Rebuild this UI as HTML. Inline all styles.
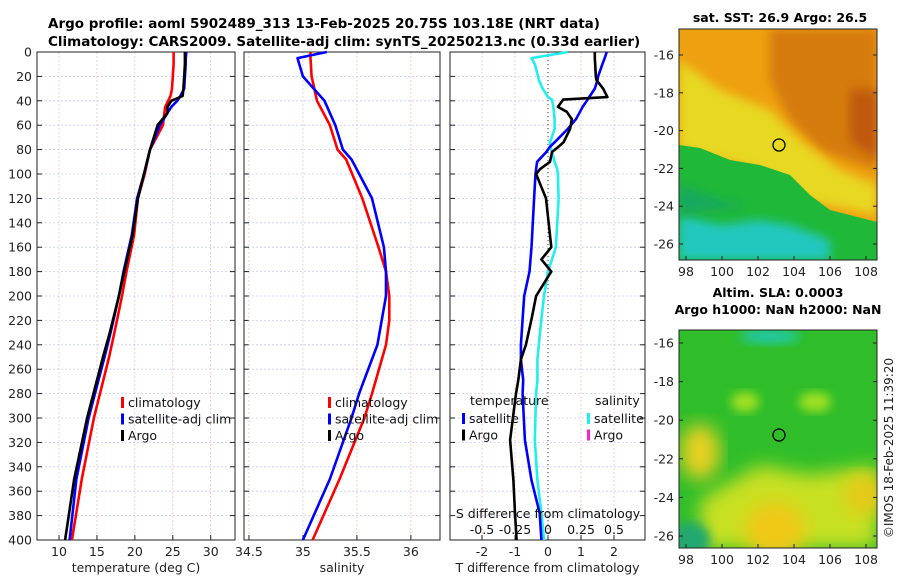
<!DOCTYPE html>
<html><head><meta charset="utf-8"><style>
body{margin:0;background:#fff;width:900px;height:580px;overflow:hidden;font-family:"Liberation Sans","DejaVu Sans",sans-serif}
svg text{font-family:"DejaVu Sans","Liberation Sans",sans-serif}
</style></head><body>
<svg id="c" width="900" height="580" viewBox="0 0 900 580">
<defs>
<filter id="bl" x="-20%" y="-20%" width="140%" height="140%"><feGaussianBlur stdDeviation="5"/></filter>
<filter id="bl2" x="-20%" y="-20%" width="140%" height="140%"><feGaussianBlur stdDeviation="9"/></filter>
<clipPath id="m1"><rect x="679" y="29" width="198" height="231"/></clipPath>
<clipPath id="m2"><rect x="679" y="330" width="198" height="218"/></clipPath>
</defs>
<text x="48" y="28" font-size="13.5" font-weight="bold">Argo profile: aoml 5902489_313 13-Feb-2025 20.75S 103.18E (NRT data)</text>
<text x="48" y="46" font-size="13.5" font-weight="bold">Climatology: CARS2009. Satellite-adj clim: synTS_20250213.nc (0.33d earlier)</text>

<g clip-path="url(#m1)">
<rect x="679" y="29" width="198" height="231" fill="#eea010"/>
<path d="M770,29 L877,29 L877,170 L820,150 L790,120 L770,80 Z" fill="#d57a10" filter="url(#bl)"/>
<path d="M850,90 L877,90 L877,160 L850,140Z" fill="#c05808" filter="url(#bl)"/>
<path d="M679,60 L720,90 L770,110 L800,140 L840,170 L877,185 L877,215 L800,200 L760,170 L720,160 L679,150Z" fill="#e8d820" filter="url(#bl)"/>
<path d="M679,145 L700,148 L730,160 L760,165 L790,175 L810,195 L830,210 L877,222 L877,260 L679,260Z" fill="#20b838"/>
<path d="M679,215 L720,225 L760,220 L790,225 L830,240 L830,260 L679,260Z" fill="#20c8c0" filter="url(#bl)"/>
<path d="M679,185 L720,200 L750,205 L679,215Z" fill="#18a860" filter="url(#bl)"/>
<circle cx="779" cy="145" r="6" fill="none" stroke="#000" stroke-width="1.3"/>
</g>
<rect x="679" y="29" width="198" height="231" fill="none" stroke="#222" stroke-width="1"/>
<text x="780" y="22" font-size="12.5" font-weight="bold" text-anchor="middle">sat. SST: 26.9 Argo: 26.5</text>
<text x="778" y="297" font-size="12.5" font-weight="bold" text-anchor="middle">Altim. SLA: 0.0003</text>
<text x="778" y="314" font-size="12.5" font-weight="bold" text-anchor="middle">Argo h1000: NaN h2000: NaN</text>

<g clip-path="url(#m2)">
<rect x="679" y="330" width="198" height="218" fill="#2fbe2a"/>
<ellipse cx="700" cy="452" rx="20" ry="28" fill="#e8d020" filter="url(#bl2)"/>
<ellipse cx="745" cy="402" rx="14" ry="10" fill="#a0e020" filter="url(#bl)"/>
<ellipse cx="815" cy="402" rx="16" ry="10" fill="#a0e020" filter="url(#bl)"/>
<path d="M700,500 L760,465 L810,475 L877,465 L877,548 L700,548Z" fill="#c8e020" filter="url(#bl2)"/>
<ellipse cx="775" cy="530" rx="30" ry="28" fill="#f0c818" filter="url(#bl2)"/>
<ellipse cx="865" cy="495" rx="20" ry="20" fill="#e8c818" filter="url(#bl2)"/>
<ellipse cx="690" cy="540" rx="20" ry="18" fill="#20a870" filter="url(#bl)"/>
<ellipse cx="770" cy="336" rx="30" ry="8" fill="#20c8a0" filter="url(#bl)"/>
<circle cx="779" cy="435" r="6" fill="none" stroke="#000" stroke-width="1.3"/>
</g>
<rect x="679" y="330" width="198" height="218" fill="none" stroke="#222" stroke-width="1"/>
<text x="893" y="448" font-size="12" text-anchor="middle" transform="rotate(-90 893 448)" fill="#222">©IMOS 18-Feb-2025 11:39:20</text>
</svg>
<script>
const NS="http://www.w3.org/2000/svg";
const svg=document.getElementById('c');
function el(t,a,p){const e=document.createElementNS(NS,t);for(const k in a)e.setAttribute(k,a[k]);(p||svg).appendChild(e);return e;}

// temperature profile depths (m) and values (deg C)
const depths=[0,5,10,20,30,36,40,45,50,60,80,100,120,150,180,200,230,250,300,350,400];
const tempClim=[25.1,25.1,25.1,25.0,24.9,24.7,24.4,24.0,23.9,23.7,22.0,21.3,20.4,19.9,18.9,18.3,17.3,16.6,14.6,13.0,11.7];
const tempSat=[26.8,26.7,26.7,26.6,26.5,26.0,25.6,24.8,24.3,23.3,22.0,21.2,20.3,19.6,18.5,17.9,16.8,16.0,13.9,12.3,11.4];
const tempArgo=[26.6,26.6,26.6,26.5,26.4,26.3,24.8,24.3,24.3,23.0,22.0,21.2,20.4,19.7,18.6,17.9,16.7,15.8,13.7,12.0,10.8];
// salinity profile depths (m) and values (PSU)
const salDepths=[0,5,20,40,60,80,88,120,160,180,200,220,240,280,300,350,400];
const salClim=[35.07,35.07,35.08,35.13,35.25,35.32,35.4,35.55,35.7,35.77,35.8,35.8,35.77,35.64,35.57,35.34,35.09];
const salSat=[35.22,34.95,35.0,35.2,35.3,35.37,35.45,35.64,35.75,35.77,35.77,35.73,35.69,35.52,35.45,35.25,35.0];
// differences from climatology
const diffDepths=[0,5,10,20,23,30,37,39,45,49,55,63,74,78,82,90,96,100,120,160,170,180,200,219,240,252,269,280,318,351,378,400];
const tDiffArgo=[1.42,1.42,1.43,1.45,1.47,1.67,1.8,0.46,0.3,0.57,0.72,0.67,0.47,0.3,0.12,0.06,-0.24,-0.36,-0.06,0.1,-0.2,0.1,-0.36,-0.5,-0.67,-0.82,-0.9,-0.97,-1.15,-1.05,-1.0,-0.95];
const tDiffSat=[1.78,1.72,1.65,1.52,1.5,1.42,1.25,1.2,1.05,0.97,0.85,0.6,0.2,0.05,-0.05,-0.33,-0.36,-0.38,-0.42,-0.5,-0.53,-0.56,-0.72,-0.77,-0.82,-0.82,-0.75,-0.77,-0.7,-0.5,-0.25,-0.2];
const sDiffSat=[0.15,-0.125,-0.1,-0.075,-0.07,-0.04,0.0,0.03,0.04,0.045,0.05,0.05,0.015,0.02,0.03,0.05,0.07,0.075,0.08,0.06,0.03,0.0,-0.03,-0.05,-0.07,-0.08,-0.08,-0.09,-0.1,-0.08,-0.05,-0.03];

const depthTicks=[0,20,40,60,80,100,120,140,160,180,200,220,240,260,280,300,320,340,360,380,400];
const tTicks=[10,15,20,25,30], sTicks=[34.5,35,35.5,36], dTicks=[-2,-1,0,1,2], sdTicks=[-0.5,-0.25,0,0.25,0.5];
const sdLabels=['-0.5','-0.25','0','0.25','0.5'];

const Y0=52,Y1=540;
const y=d=>Y0+(d/400)*(Y1-Y0);
function panel(name,x0,x1,lo,hi,ticks,xlabel,showY){
  const g=el('g',{});
  
  
  const x=v=>x0+(v-lo)/(hi-lo)*(x1-x0);
  depthTicks.forEach(d=>{el('line',{x1:x0,x2:x1,y1:y(d),y2:y(d),stroke:'#c8cdf0','stroke-width':0.8,'stroke-dasharray':'2,2'},g);
    el('line',{x1:x0,x2:x0+5,y1:y(d),y2:y(d),stroke:'#222'},g);el('line',{x1:x1-5,x2:x1,y1:y(d),y2:y(d),stroke:'#222'},g);
    if(showY){const t=el('text',{x:x0-5,y:y(d)+4.5,'font-size':12.5,'text-anchor':'end',fill:'#222'},g);t.textContent=d;}});
  ticks.forEach(v=>{el('line',{x1:x(v),x2:x(v),y1:Y0,y2:Y1,stroke:'#e8c8b8','stroke-width':0.8,'stroke-dasharray':'2,2'},g);
    el('line',{x1:x(v),x2:x(v),y1:Y1,y2:Y1-5,stroke:'#222'},g);
    const t=el('text',{x:x(v),y:Y1+16,'font-size':12.5,'text-anchor':'middle',fill:'#222'},g);t.textContent=v;});
  el('rect',{x:x0,y:Y0,width:x1-x0,height:Y1-Y0,fill:'none',stroke:'#222','stroke-width':1},g);
  const xl=el('text',{x:(x0+x1)/2,y:572,'font-size':12.5,'text-anchor':'middle',fill:'#222'},g);xl.textContent=xlabel;
  return {g,x};
}
function line(p,dep,vals,color,name){
  const pts=vals.map((v,i)=>p.x(v).toFixed(1)+','+y(dep[i]).toFixed(1)).join(' ');
  const l=el('polyline',{points:pts,fill:'none',stroke:color,'stroke-width':2.6,'stroke-linejoin':'round'},p.g);
  
  
}
function legend(g,x0,y0,items){
  items.forEach((it,i)=>{el('rect',{x:x0,y:y0+i*16.5-9,width:3,height:11,fill:it[1]},g);
    const t=el('text',{x:x0+7,y:y0+i*16.5+1,'font-size':12.5,fill:'#111'},g);t.textContent=it[0];});
}
const p1=panel('temperature-panel',37,235,7.1,33.2,tTicks,'temperature (deg C)',true);
line(p1,depths,tempClim,'#f00','temp-climatology-line');
line(p1,depths,tempSat,'#00f','temp-satellite-line');
line(p1,depths,tempArgo,'#000','temp-argo-line');
legend(p1.g,121,406,[['climatology','#f00'],['satellite-adj clim','#00f'],['Argo','#000']]);

const p2=panel('salinity-panel',244,440,34.454,36.27,sTicks,'salinity',false);
line(p2,salDepths,salClim,'#f00','sal-climatology-line');
line(p2,salDepths,salSat,'#00f','sal-satellite-line');
legend(p2.g,328,406,[['climatology','#f00'],['satellite-adj clim','#00f'],['Argo','#000']]);

const p3=panel('difference-panel',450,645,-2.97,2.94,dTicks,'T difference from climatology',false);
el('line',{x1:p3.x(0),x2:p3.x(0),y1:Y0,y2:Y1,stroke:'#444','stroke-dasharray':'1,3'},p3.g);
line(p3,diffDepths,sDiffSat.map(v=>v*4),'#2ee','sdiff-satellite-line');
line(p3,diffDepths,tDiffSat,'#00f','tdiff-satellite-line');
line(p3,diffDepths,tDiffArgo,'#000','tdiff-argo-line');
let t=el('text',{x:470,y:405,'font-size':12.5,fill:'#111'},p3.g);t.textContent='temperature';
t=el('text',{x:595,y:405,'font-size':12.5,fill:'#111'},p3.g);t.textContent='salinity';
legend(p3.g,462,422,[['satellite','#00f'],['Argo','#000']]);
legend(p3.g,587,422,[['satellite','#2ee'],['Argo','#f2c']]);
t=el('text',{x:548,y:518,'font-size':12.5,'text-anchor':'middle',fill:'#111'},p3.g);t.textContent='S difference from climatology';
sdTicks.forEach((v,i)=>{const tt=el('text',{x:p3.x(v*4),y:534,'font-size':12.5,'text-anchor':'middle',fill:'#111'},p3.g);tt.textContent=sdLabels[i];});

// map axes
const lonTicks=[98,100,102,104,106,108], latTicks=[-16,-18,-20,-22,-24,-26];
function mapAxes(name,y0,h,lat16,lat26){
  const g=el('g',{});
  
  
  const lx=v=>686+(v-98)*18;
  const ly=v=>lat16+(v+16)/(-10)*(lat26-lat16);
  lonTicks.forEach(v=>{el('line',{x1:lx(v),x2:lx(v),y1:y0+h,y2:y0+h-4,stroke:'#222'},g);
    const tt=el('text',{x:lx(v),y:y0+h+16,'font-size':12.5,'text-anchor':'middle',fill:'#222'},g);tt.textContent=v;});
  latTicks.forEach(v=>{el('line',{x1:679,x2:683,y1:ly(v),y2:ly(v),stroke:'#222'},g);el('line',{x1:873,x2:877,y1:ly(v),y2:ly(v),stroke:'#222'},g);
    const tt=el('text',{x:674,y:ly(v)+4.5,'font-size':12.5,'text-anchor':'end',fill:'#222'},g);tt.textContent=v;});
}
mapAxes('sst-map-axes',29,231,55,244);
mapAxes('sla-map-axes',330,218,343,536);
</script>
</body></html>
